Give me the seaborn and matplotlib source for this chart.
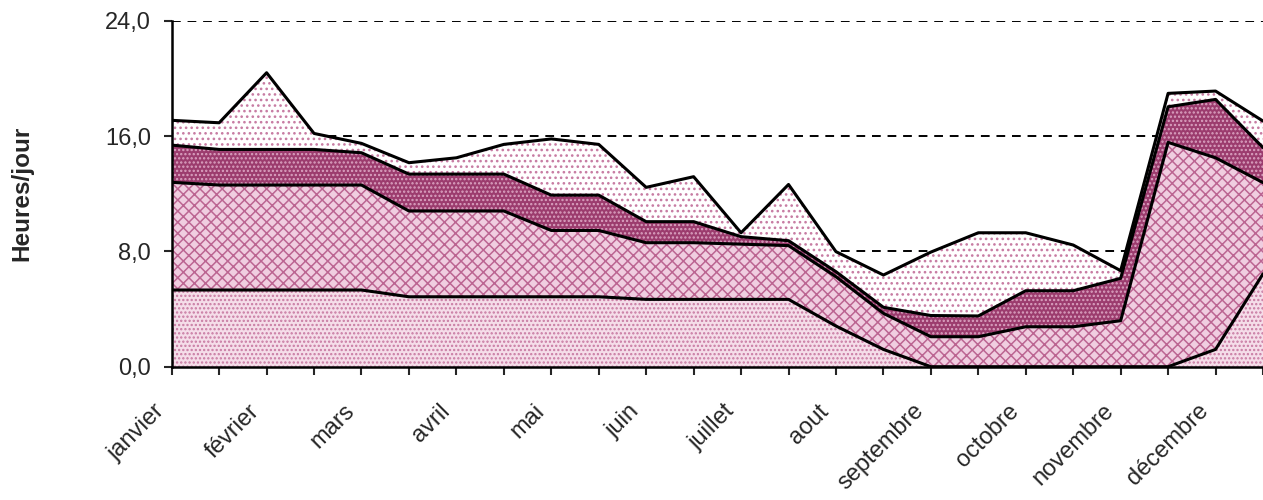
import numpy as np
import matplotlib
matplotlib.use('Agg')
import matplotlib.pyplot as plt
import matplotlib.transforms as mtrans
import seaborn as sns

# half-month steps, labels on the first half of each month
months = ['janvier', 'février', 'mars', 'avril', 'mai', 'juin', 'juillet',
          'aout', 'septembre', 'octobre', 'novembre', 'décembre']
steps = np.arange(24)

layer1 = [5.32, 5.32, 5.32, 5.32, 5.32, 4.85, 4.85, 4.85, 4.85, 4.85, 4.67, 4.67,
          4.67, 4.67, 2.82, 1.20, 0.00, 0.00, 0.00, 0.00, 0.00, 0.00, 1.20, 6.44]
layer2 = [7.47, 7.28, 7.28, 7.28, 7.28, 5.95, 5.95, 5.95, 4.60, 4.60, 3.93, 3.93,
          3.83, 3.73, 3.42, 2.50, 2.08, 2.08, 2.77, 2.77, 3.19, 15.56, 13.29, 6.33]
layer3 = [2.58, 2.47, 2.47, 2.47, 2.24, 2.56, 2.56, 2.56, 2.45, 2.45, 1.46, 1.46,
          0.52, 0.34, 0.35, 0.42, 1.47, 1.44, 2.50, 2.50, 2.94, 2.47, 4.05, 2.43]
layer4 = [1.72, 1.85, 5.32, 1.11, 0.65, 0.79, 1.13, 2.06, 3.90, 3.52, 2.38, 3.12,
          0.27, 3.90, 1.39, 2.24, 4.40, 5.77, 4.02, 3.17, 0.53, 0.93, 0.58, 1.84]

sns.set_style('white')
plt.rcParams['font.family'] = ['Liberation Sans', 'DejaVu Sans']
plt.rcParams['hatch.linewidth'] = 1.1

fig = plt.figure(figsize=(12.63, 5), dpi=100)
ax = fig.add_axes([171.7 / 1263, 0.2666, (1263 - 171.7) / 1263, 0.692])

layers = [layer1, layer2, layer3, layer4]
faces = ['#f5dde9', '#f0cde0', '#9c3c6e', '#ffffff']
hatch_cols = ['#c87aa2', '#bc6592', '#dba3c1', '#c77ba2']
hatches = ['....', 'xxx', '....', '...']

polys = ax.stackplot(steps, *layers, colors=faces, zorder=2)
for p, hc, h in zip(polys, hatch_cols, hatches):
    p.set_hatch(h)
    p.set_edgecolor(hc)
    p.set_linewidth(0)

cum = np.cumsum(np.array(layers), axis=0)
for row in cum:
    sns.lineplot(x=steps, y=row, color='black', lw=2.2, ax=ax, zorder=3)

for yv in [8, 16, 24]:
    ax.axhline(yv, color='black', lw=1.4, ls=(0, (4.5, 3.5)), zorder=1)

ax.set_xlim(0, (1263 - 171.7) / 47.7)
ax.set_ylim(0, 24)
ax.set_yticks([0, 8, 16, 24])
ax.set_yticklabels(['0,0', '8,0', '16,0', '24,0'], fontsize=17)
ax.set_xticks(steps, minor=True)
ax.set_xticks(steps[::2])
ax.set_xticklabels(months, fontsize=17, rotation=45, ha='right',
                   rotation_mode='anchor')
ax.tick_params(axis='x', which='both', direction='out', length=6, width=1.5,
               bottom=True, pad=18)
ax.tick_params(axis='y', direction='out', length=6, width=1.5, left=True, pad=9)

shift = mtrans.ScaledTranslation(-18 / 100, 0, fig.dpi_scale_trans)
for lab in ax.get_xticklabels():
    lab.set_transform(lab.get_transform() + shift)

for s in ['top', 'right']:
    ax.spines[s].set_visible(False)
for s in ['left', 'bottom']:
    ax.spines[s].set_color('black')
    ax.spines[s].set_linewidth(1.8)
    ax.spines[s].set_zorder(4)

ax.set_ylabel('Heures/jour', fontsize=17.5, fontweight='bold')
ax.yaxis.set_label_coords(-0.127, 0.5)

fig.savefig('out.png', dpi=100)
